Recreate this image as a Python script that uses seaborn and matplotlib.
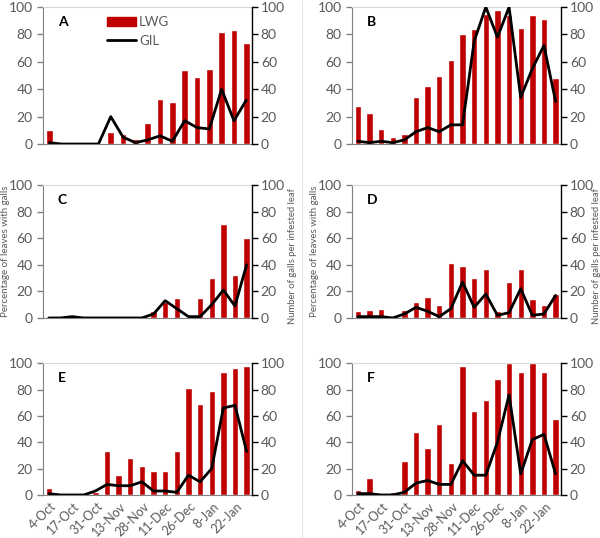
import numpy as np
import pandas as pd
import seaborn as sns
import matplotlib.pyplot as plt
from matplotlib.patches import Patch
from matplotlib.lines import Line2D

# tick labels (every second sampling date)
tick_labels = ['4-Oct', '17-Oct', '31-Oct', '13-Nov', '28-Nov', '11-Dec', '26-Dec', '8-Jan', '22-Jan']

# LWG = percentage of leaves with galls, GIL = galls per infested leaf
lwg_a = [10, 0, 0, 0, 0, 9, 7, 4, 15, 33, 31, 54, 49, 55, 82, 83, 74]
gil_a = [1, 0, 0, 0, 0, 20, 5, 1, 3, 6, 2, 17, 12, 11, 40, 17, 32]

lwg_b = [28, 23, 11, 5, 7, 34, 42, 50, 61, 80, 84, 95, 98, 94, 85, 94, 91, 48]
gil_b = [2, 1, 2, 1, 3, 9, 12, 9, 14, 14, 75, 100, 78, 100, 34, 55, 72, 31]

lwg_c = [0, 0, 1.5, 0, 0, 0, 0, 0, 0, 5, 12, 15, 0, 15, 30, 71, 32, 60]
gil_c = [0, 0, 1, 0, 0, 0, 0, 0, 0, 3, 13, 7, 1, 1, 10, 21, 9, 40]

lwg_d = [5, 6, 7, 0, 6, 12, 16, 10, 41, 39, 30, 37, 5, 27, 37, 14, 10, 18]
gil_d = [1, 1, 1, 0, 3, 8, 5, 1, 7, 27, 8, 18, 2, 4, 22, 2, 3, 17]

lwg_e = [5, 0, 0, 0, 2, 33, 15, 28, 22, 18, 18, 33, 81, 69, 79, 93, 96, 98]
gil_e = [1, 0, 0, 0, 3, 8, 7, 7, 10, 3, 3, 2, 15, 10, 20, 66, 68, 33]

lwg_f = [4, 13, 0, 2, 26, 48, 36, 54, 24, 98, 64, 72, 88, 100, 93, 100, 93, 58]
gil_f = [1, 1, 0, 0, 2, 9, 11, 8, 8, 26, 15, 15, 40, 76, 16, 42, 46, 16]

panels = [('A', lwg_a, gil_a), ('B', lwg_b, gil_b),
          ('C', lwg_c, gil_c), ('D', lwg_d, gil_d),
          ('E', lwg_e, gil_e), ('F', lwg_f, gil_f)]

sns.set_style('white')
plt.rcParams['font.family'] = ['Lato', 'DejaVu Sans']

red = '#C00000'
grey = '#595959'

fig = plt.figure(figsize=(6, 5.38), dpi=100)

lefts = [0.0717, 0.5867]
bottoms = [0.7323, 0.409, 0.08]
heights = [0.2546, 0.247, 0.245]
width = 0.349

for k, (name, lwg, gil) in enumerate(panels):
    row, col = k // 2, k % 2
    ax = fig.add_axes([lefts[col], bottoms[row], width, heights[row]])
    n = len(lwg)
    df = pd.DataFrame({'idx': np.arange(n), 'LWG': lwg, 'GIL': gil})

    sns.barplot(data=df, x='idx', y='LWG', color=red, width=0.55,
                saturation=1, ax=ax)
    ax2 = ax.twinx()
    sns.lineplot(data=df, x='idx', y='GIL', color='black', lw=2, ax=ax2)

    for a in (ax, ax2):
        a.set_xlim(-0.5, n - 0.5)
        a.set_ylim(0, 100)
        a.set_yticks(range(0, 101, 20))
        a.set_ylabel('')
        a.set_xlabel('')
        a.tick_params(axis='y', labelsize=10, labelcolor=grey, length=4,
                      direction='out', width=1)

    ax.spines['left'].set_color('#808080')
    ax.spines['bottom'].set_color('#808080')
    ax.spines['top'].set_color('#d9d9d9')
    ax.spines['right'].set_visible(False)
    ax2.spines['right'].set_color('black')
    ax2.spines['right'].set_linewidth(1)
    for s in ('left', 'bottom', 'top'):
        ax2.spines[s].set_visible(False)
    ax.tick_params(axis='y', color='#808080')
    ax2.tick_params(axis='y', color='black', pad=2)

    # category boundary ticks like the original spreadsheet chart
    ax.set_xticks(np.arange(-0.5, n, 1.0))
    ax.set_xticklabels([])
    ax.tick_params(axis='x', length=4, direction='out', color='#808080', bottom=True)
    ax2.set_xticks([])

    if row == 2:
        for i, lab in enumerate(tick_labels):
            ax.text(2 * i + 0.1, -4, lab, rotation=45, ha='right', va='top',
                    rotation_mode='anchor', fontsize=9, color=grey,
                    transform=ax.transData, clip_on=False)

    if row == 1:
        ax.set_ylabel('Percentage of leaves with galls', fontsize=7, color=grey)
        ax2.set_ylabel('Number of galls per infested leaf', fontsize=6.8, color=grey)
        ax.yaxis.set_label_coords(-0.16, 0.5)
        ax2.yaxis.set_label_coords(1.17 if col == 0 else 1.145, 0.47)

    ax.text(0.07, 0.86, name, transform=ax.transAxes, fontsize=10,
            fontweight='bold', color='black')

    if name == 'A':
        handles = [Patch(color=red), Line2D([], [], color='black', lw=2)]
        ax.legend(handles, ['LWG', 'GIL'], loc='upper left',
                  bbox_to_anchor=(0.25, 1.02), frameon=False, fontsize=9.5,
                  handlelength=2.2, labelspacing=0.5, handletextpad=0.2,
                  labelcolor=grey)

# faint separator between the chart columns
fig.add_artist(Line2D([0.503, 0.503], [0.0, 1.0], color='#e6e6e6', lw=0.8))

fig.savefig('out.png', dpi=100)
